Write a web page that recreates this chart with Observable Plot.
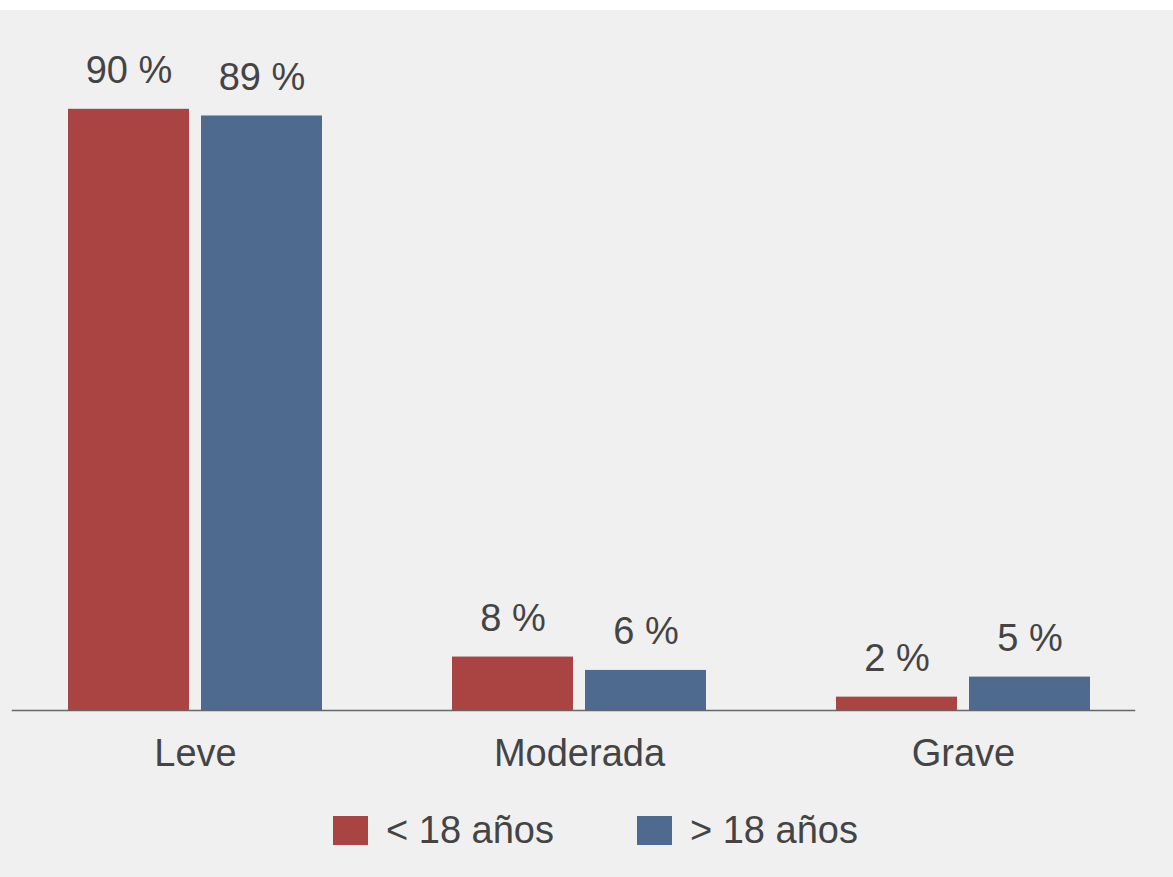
<!DOCTYPE html>
<html><head><meta charset="utf-8">
<script src="https://cdn.jsdelivr.net/npm/d3@7"></script>
<script src="https://cdn.jsdelivr.net/npm/@observablehq/plot@0.6"></script>
<style>
html,body{margin:0;padding:0;background:#ffffff;}
#wrap{position:absolute;left:0;top:10px;width:1173px;height:867px;background:#f0f0f0;font-family:Arial,"Liberation Sans",sans-serif;overflow:hidden;}
#chart{position:absolute;left:0;top:0;}
#legend{position:absolute;left:333px;top:798px;display:flex;align-items:center;font-size:38px;color:#444;line-height:44px;}
.item{display:flex;align-items:center;margin-right:83px;}
.sw{width:35px;height:29px;margin-right:18px;}
</style></head><body>
<div id="wrap"><div id="chart"></div><div id="legend"></div></div>
<script>
const categories = ["Leve", "Moderada", "Grave"];
const series = ["< 18 años", "> 18 años"];
const under18 = [90, 8, 2];
const over18 = [89, 6, 5];
const colors = ["#a94442", "#4f6a8f"];

const data = categories.flatMap((c, i) => [
  {cat: c, grupo: series[0], v: under18[i]},
  {cat: c, grupo: series[1], v: over18[i]}
]);

const plot = Plot.plot({
  width: 1173,
  height: 790,
  marginLeft: 3,
  marginRight: 18,
  marginTop: 32,
  marginBottom: 90,
  style: {background: "transparent", fontFamily: "Arial, 'Liberation Sans', sans-serif", fontSize: "38px", color: "#444"},
  fx: {domain: categories, padding: 0, label: null, axis: "bottom", tickSize: 0, tickPadding: 29},
  x: {domain: series, paddingInner: 0.09, paddingOuter: 0.478, axis: null},
  y: {domain: [0, 100], axis: null},
  color: {domain: series, range: colors},
  marks: [
    Plot.barY(data, {fx: "cat", x: "grupo", y: "v", fill: "grupo"}),
    Plot.text(data, {fx: "cat", x: "grupo", y: "v", text: d => d.v + " %", lineAnchor: "bottom", dy: -26, fill: "#444", fontSize: 38}),
    Plot.frame({anchor: "bottom", facet: "super", stroke: "#666", strokeWidth: 1.5, insetLeft: 9, insetRight: 21})
  ]
});
document.getElementById("chart").appendChild(plot);

const legend = d3.select("#legend");
series.forEach((s, i) => {
  const it = legend.append("div").attr("class", "item");
  it.append("div").attr("class", "sw").style("background", colors[i]);
  it.append("span").text(s);
});
</script>
</body></html>
